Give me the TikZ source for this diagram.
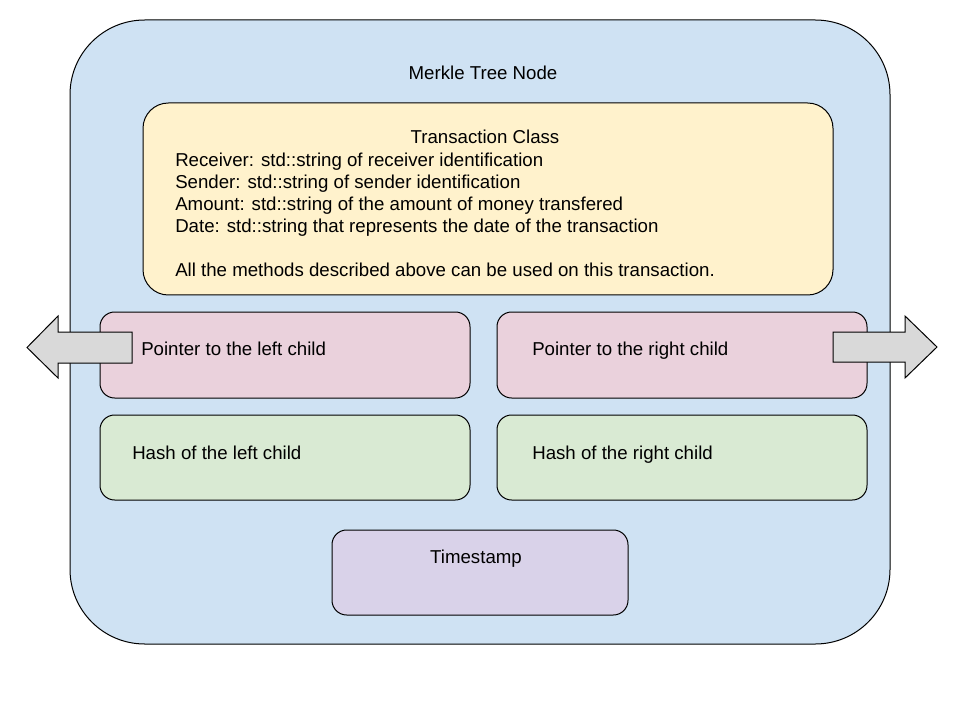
\documentclass[tikz,border=0pt]{standalone}
\usepackage{fontspec}
\setmainfont{Liberation Sans}
\definecolor{outerblue}{HTML}{CFE2F3}
\definecolor{txyellow}{HTML}{FFF2CC}
\definecolor{ptrpink}{HTML}{EAD1DC}
\definecolor{hashgreen}{HTML}{D9EAD3}
\definecolor{tspurple}{HTML}{D9D2E9}
\definecolor{arrowgray}{HTML}{D9D9D9}
\begin{document}
\begin{tikzpicture}[x=0.75pt,y=-0.75pt,
  box/.style={draw=black,line width=0.75pt,inner sep=0pt,outer sep=0pt},
  txt/.style={inner sep=0pt,font=\fontsize{14}{16.5}\selectfont},
  fatarrow/.style={draw=black,line width=0.75pt,fill=arrowgray,line join=miter}]
\useasboundingbox (0,0) rectangle (960,720);
\node[box,fill=outerblue,rounded corners=56pt,minimum width=615pt,minimum height=468pt] (outer) at (480,332) {};
\node[box,fill=txyellow,rounded corners=19pt,minimum width=517.5pt,minimum height=144pt] (tx) at (488,199) {};
\node[box,fill=ptrpink,rounded corners=11pt,minimum width=277.5pt,minimum height=64.5pt] (pl) at (285,355) {};
\node[box,fill=ptrpink,rounded corners=11pt,minimum width=277.5pt,minimum height=64.5pt] (pr) at (682,355) {};
\node[box,fill=hashgreen,rounded corners=11pt,minimum width=277.5pt,minimum height=63.75pt] (hl) at (285,457.5) {};
\node[box,fill=hashgreen,rounded corners=11pt,minimum width=277.5pt,minimum height=63.75pt] (hr) at (682,457.5) {};
\node[box,fill=tspurple,rounded corners=11pt,minimum width=222pt,minimum height=63.75pt] (ts) at (480,572.5) {};
% fat arrows
\draw[fatarrow] (132,332) -- (58,332) -- (58,316) -- (27,347.5) -- (58,378) -- (58,363) -- (132,363) -- cycle;
\draw[fatarrow] (833,332) -- (905,332) -- (905,316) -- (937,347) -- (905,378) -- (905,362) -- (833,362) -- cycle;
% texts
\node[txt,anchor=base] (outerlbl) at (483,79.5) {Merkle Tree Node};
\node[txt,anchor=base] (txtitle) at (485,143.5) {Transaction Class};
\node[txt,anchor=base west,align=left] (txbody) at (175,276.5) {Receiver: std::string of receiver identification\\
Sender: std::string of sender identification\\
Amount: std::string of the amount of money transfered\\
Date: std::string that represents the date of the transaction\\[16.5pt]
All the methods described above can be used on this transaction.};
\node[txt,anchor=base west] (pllbl) at (141,355.5) {Pointer to the left child};
\node[txt,anchor=base west] (prlbl) at (532,355.5) {Pointer to the right child};
\node[txt,anchor=base west] (hllbl) at (132,459.5) {Hash of the left child};
\node[txt,anchor=base west] (hrlbl) at (532,459.5) {Hash of the right child};
\node[txt,anchor=base] (tslbl) at (476,563.5) {Timestamp};
\end{tikzpicture}
\end{document}
